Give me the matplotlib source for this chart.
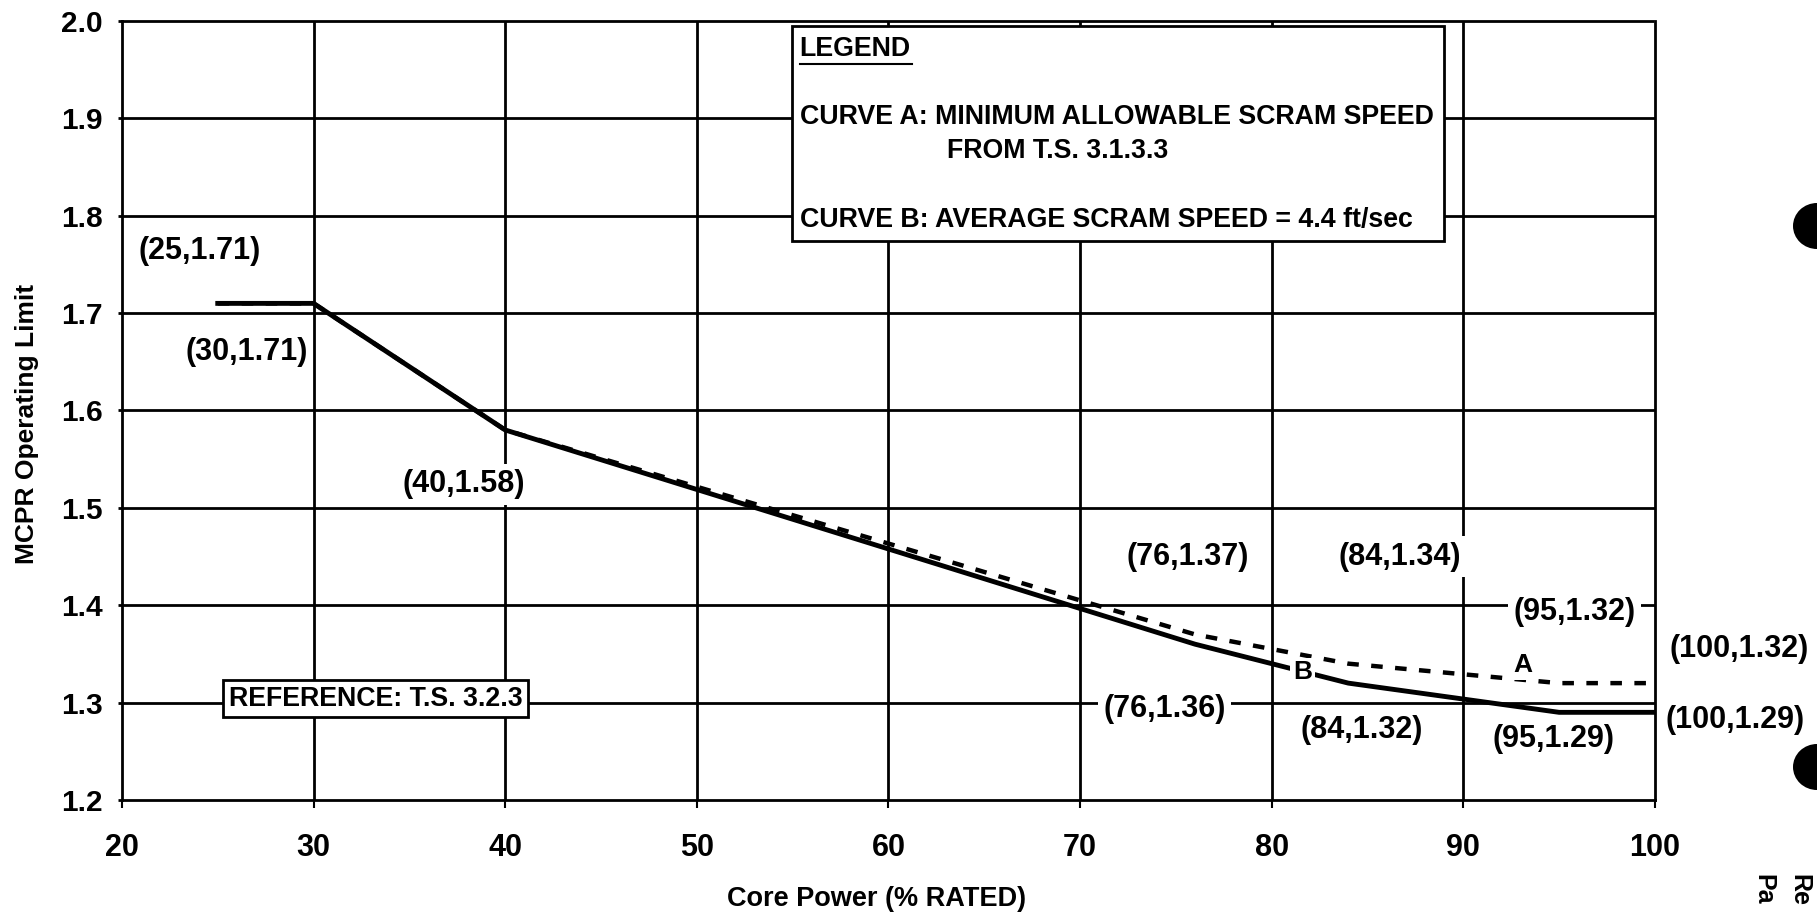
import matplotlib.pyplot as plt
from matplotlib.patches import Rectangle, Ellipse

plt.rcParams['font.family'] = ['Liberation Sans', 'DejaVu Sans']
plt.rcParams['font.weight'] = 'bold'

# MCPR operating limit vs core power
power = [25, 30, 40, 76, 84, 95, 100]
curve_a = [1.71, 1.71, 1.58, 1.37, 1.34, 1.32, 1.32]   # minimum allowable scram speed
curve_b = [1.71, 1.71, 1.58, 1.36, 1.32, 1.29, 1.29]   # average scram speed

x_ticks = [20, 30, 40, 50, 60, 70, 80, 90, 100]
y_ticks = [1.2, 1.3, 1.4, 1.5, 1.6, 1.7, 1.8, 1.9, 2.0]

legend_lines = ['CURVE A: MINIMUM ALLOWABLE SCRAM SPEED',
                'FROM T.S. 3.1.3.3',
                'CURVE B: AVERAGE SCRAM SPEED = 4.4 ft/sec']
reference_note = 'REFERENCE: T.S. 3.2.3'

# where each point label sits: (curve, index, label x, label y)
label_spots = [
    ('b', 0, 24.05, 1.764),
    ('b', 1, 26.5, 1.660),
    ('b', 2, 37.85, 1.524),
    ('a', 3, 75.6, 1.450),
    ('a', 4, 86.67, 1.450),
    ('a', 5, 95.8, 1.393),
    ('a', 6, 104.4, 1.355),
    ('b', 3, 74.4, 1.293),
    ('b', 4, 84.7, 1.272),
    ('b', 5, 94.7, 1.263),
    ('b', 6, 104.2, 1.282),
]

fig = plt.figure(figsize=(18.17, 9.13), dpi=100)
ax = fig.add_axes([0.0671, 0.1238, 0.8437, 0.8532])
ax.set_xlim(20, 100)
ax.set_ylim(1.2, 2.0)

# grid drawn by hand so the top and right border stay dotted
for yv in y_ticks[1:-1]:
    ax.axhline(yv, color='black', lw=2.0, zorder=1)
for xv in x_ticks[1:-1]:
    ax.axvline(xv, color='black', lw=2.0, zorder=1)

ax.plot(power, curve_a, color='black', lw=3.2, dashes=(2.6, 2.8), zorder=3)
ax.plot(power, curve_b, color='black', lw=3.5, zorder=3)

for sp in ['left', 'bottom']:
    ax.spines[sp].set_linewidth(2.0)
for sp in ['top', 'right']:
    ax.spines[sp].set_linewidth(2.0)
    ax.spines[sp].set_linestyle((0, (1, 1)))

ax.set_xticks(x_ticks)
ax.set_yticks(y_ticks)
ax.set_xticklabels([str(v) for v in x_ticks], fontsize=22, fontweight='bold')
ax.set_yticklabels([f'{v:.1f}' for v in y_ticks], fontsize=21.5, fontweight='bold')
ax.tick_params(axis='x', length=6, width=1.5, pad=18)
ax.tick_params(axis='y', length=3, width=2, pad=11)

ax.set_xlabel('Core Power (% RATED)', fontsize=19.5, fontweight='bold')
ax.xaxis.set_label_coords(0.4925, -0.110)
ax.set_ylabel('MCPR Operating Limit', fontsize=19, fontweight='bold')
ax.yaxis.set_label_coords(-0.054, 0.4827)

white = dict(facecolor='white', edgecolor='none', pad=4)
for which, i, lx, ly in label_spots:
    yv = curve_a[i] if which == 'a' else curve_b[i]
    ax.text(lx, ly, f'({power[i]},{yv:.2f})', fontsize=22, fontweight='bold',
            ha='center', va='center', bbox=white, zorder=5, clip_on=False)

# curve letters sit on the lines and break them
ax.text(81.6, 1.331, 'B', fontsize=19, fontweight='bold', ha='center', va='center',
        bbox=dict(facecolor='white', edgecolor='none', pad=2), zorder=5)
ax.text(93.1, 1.339, 'A', fontsize=19, fontweight='bold', ha='center', va='center',
        bbox=dict(facecolor='white', edgecolor='none', pad=2), zorder=5)

# legend panel
ax.add_patch(Rectangle((54.96, 1.774), 89.0 - 54.96, 1.995 - 1.774,
                       facecolor='white', edgecolor='black', lw=2.0, zorder=6))
ax.text(55.37, 1.971, 'LEGEND', fontsize=19.3, fontweight='bold', ha='left', va='center', zorder=7)
ax.plot([55.37, 61.23], [1.956, 1.956], color='black', lw=1.5, zorder=7)
ax.text(55.37, 1.901, legend_lines[0], fontsize=19.3, fontweight='bold', ha='left', va='center', zorder=7)
ax.text(63.05, 1.867, legend_lines[1], fontsize=19.3, fontweight='bold', ha='left', va='center', zorder=7)
ax.text(55.37, 1.796, legend_lines[2], fontsize=19.3, fontweight='bold', ha='left', va='center', zorder=7)

ax.text(33.24, 1.304, reference_note, fontsize=19.3, fontweight='bold', ha='center', va='center',
        bbox=dict(facecolor='white', edgecolor='black', lw=2.0, pad=4), zorder=6)

# binder holes and the page footer on the right edge
for cy in [226, 767]:
    fig.patches.append(Ellipse((1817 / 1817, 1 - cy / 913), 48 / 1817, 46 / 913,
                               transform=fig.transFigure, facecolor='black', edgecolor='none'))
fig.text(1792 / 1817, 1 - 874 / 913, 'Re', rotation=270, rotation_mode='anchor',
         ha='left', va='baseline', fontsize=18, fontweight='bold')
fig.text(1756 / 1817, 1 - 874 / 913, 'Pa', rotation=270, rotation_mode='anchor',
         ha='left', va='baseline', fontsize=18, fontweight='bold')

fig.savefig('out.png', dpi=100)
